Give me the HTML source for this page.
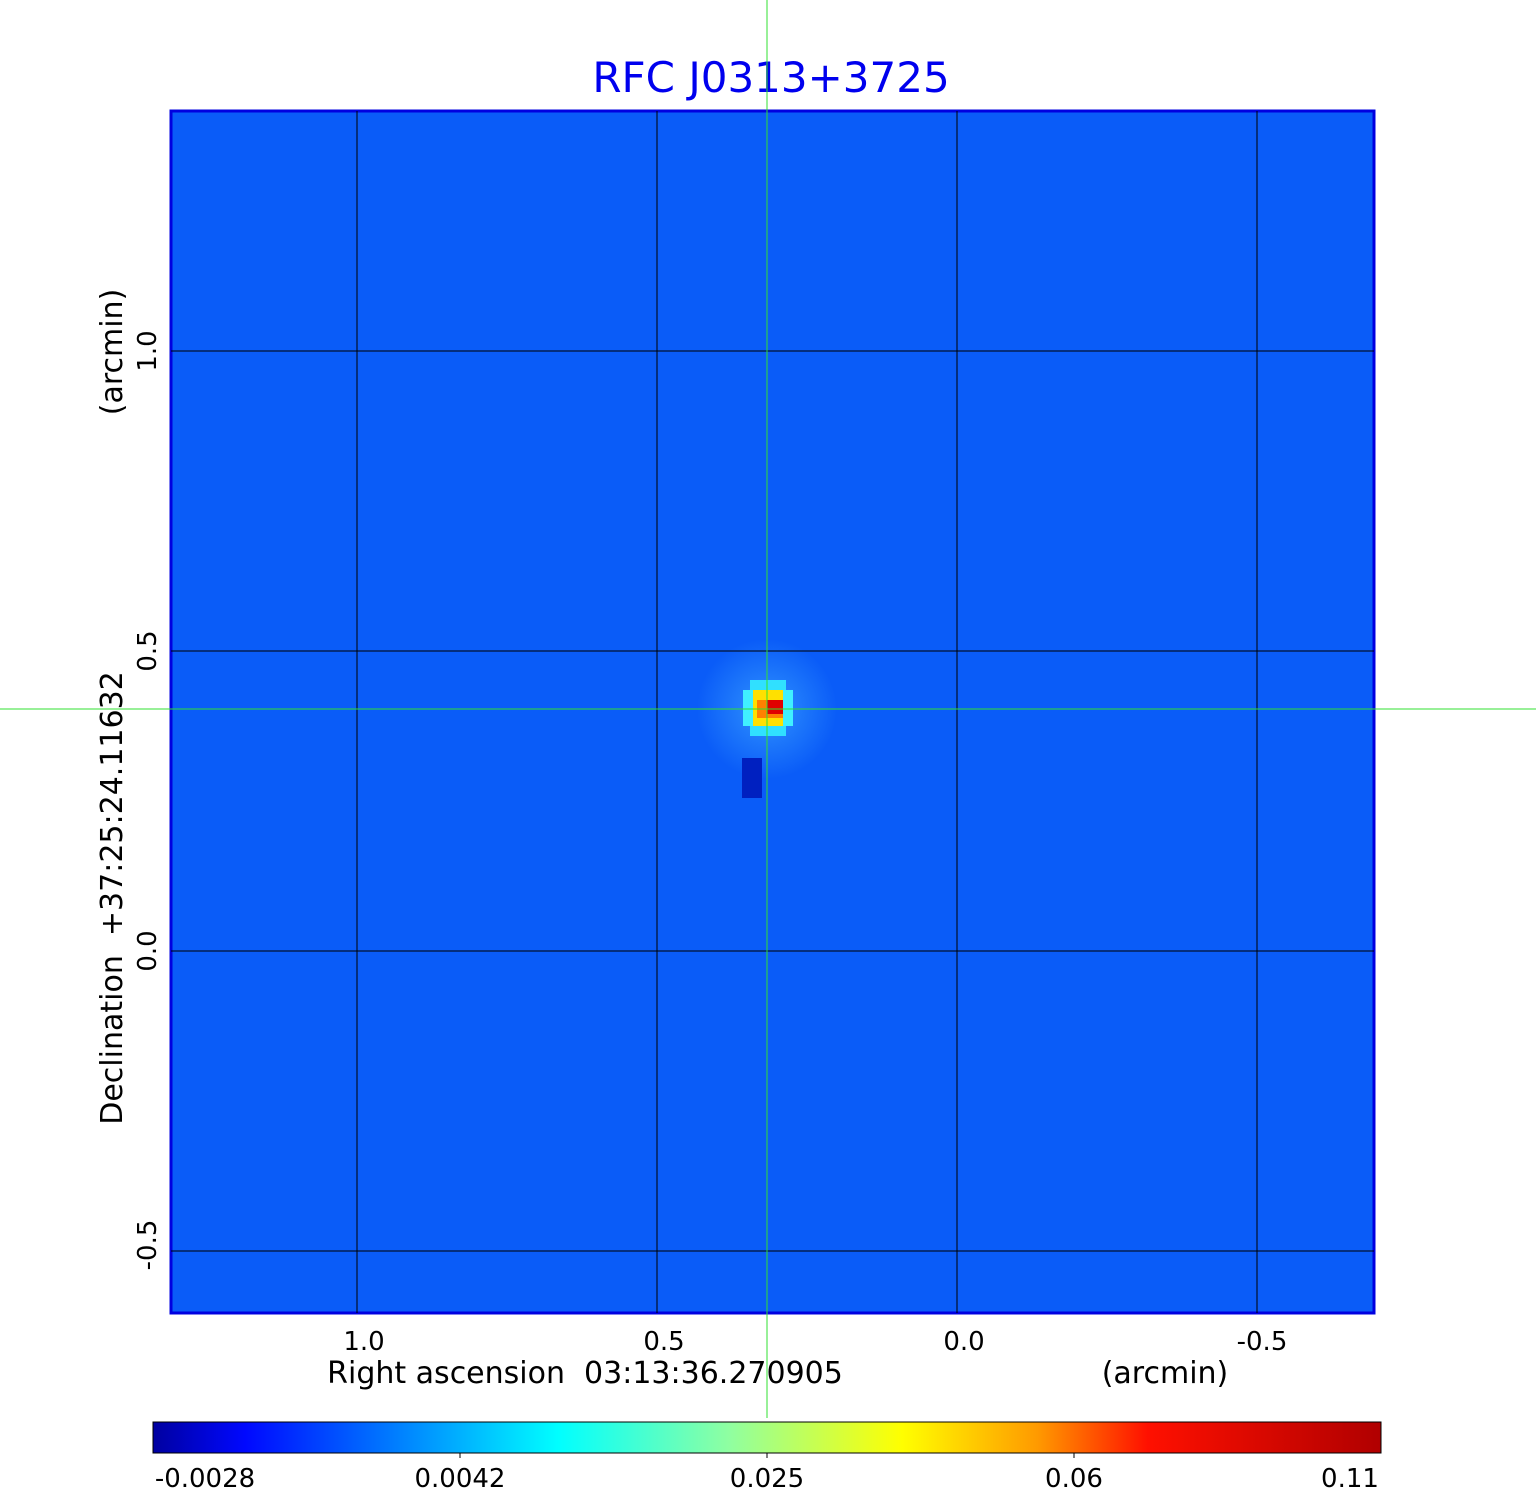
<!DOCTYPE html>
<html><head><style>body{margin:0;background:#fff}svg{display:block}text{font-family:"DejaVu Sans","Liberation Sans",sans-serif}</style></head>
<body>
<svg width="1536" height="1511" xmlns="http://www.w3.org/2000/svg">
<defs>
<linearGradient id="cb" x1="0" x2="1">
<stop offset="0" stop-color="#0000a0"/>
<stop offset="0.075" stop-color="#0008ff"/>
<stop offset="0.2" stop-color="#0080ff"/>
<stop offset="0.33" stop-color="#00ffff"/>
<stop offset="0.47" stop-color="#90ffa0"/>
<stop offset="0.61" stop-color="#ffff00"/>
<stop offset="0.72" stop-color="#ff9a00"/>
<stop offset="0.81" stop-color="#ff1000"/>
<stop offset="1" stop-color="#b00000"/>
</linearGradient>
<radialGradient id="halo" cx="0.5" cy="0.5" r="0.5">
<stop offset="0" stop-color="#3aa0ff" stop-opacity="0.8"/>
<stop offset="1" stop-color="#3aa0ff" stop-opacity="0"/>
</radialGradient>
</defs>
<text x="771" y="92" font-size="42" fill="#0000ee" text-anchor="middle">RFC J0313+3725</text>
<rect x="171" y="111" width="1203" height="1202" fill="#0a5cf8" stroke="#0000e0" stroke-width="3"/>
<circle cx="767" cy="709" r="70" fill="url(#halo)"/>
<g stroke="none">
<rect x="742" y="758" width="20" height="40" fill="#0020c0"/>
<rect x="750" y="680" width="36" height="56" fill="#30e0ff"/>
<rect x="743" y="690" width="50" height="36" fill="#40f0ff"/>
<rect x="753" y="690" width="30" height="36" fill="#ffe000"/>
<rect x="757" y="700" width="26" height="18" fill="#ff8000"/>
<rect x="767" y="700" width="16" height="14" fill="#e00000"/>
</g>
<g stroke="#000" stroke-width="1">
<line x1="357" y1="111" x2="357" y2="1313"/><line x1="657" y1="111" x2="657" y2="1313"/>
<line x1="957" y1="111" x2="957" y2="1313"/><line x1="1257" y1="111" x2="1257" y2="1313"/>
<line x1="171" y1="351" x2="1374" y2="351"/><line x1="171" y1="651" x2="1374" y2="651"/>
<line x1="171" y1="951" x2="1374" y2="951"/><line x1="171" y1="1251" x2="1374" y2="1251"/>
</g>
<g stroke="#30e030" stroke-width="1">
<line x1="767" y1="0" x2="767" y2="1418"/><line x1="0" y1="709" x2="1536" y2="709"/>
</g>
<g font-size="26" fill="#000" text-anchor="middle">
<text x="364" y="1350">1.0</text><text x="664" y="1350">0.5</text><text x="964" y="1350">0.0</text><text x="1262" y="1350">-0.5</text>
<text x="585" y="1383" font-size="30">Right ascension &#160;03:13:36.270905</text>
<text x="1165" y="1383" font-size="30">(arcmin)</text>
</g>
<g font-size="26" fill="#000" text-anchor="middle">
<text transform="translate(156,351) rotate(-90)">1.0</text>
<text transform="translate(156,651) rotate(-90)">0.5</text>
<text transform="translate(156,951) rotate(-90)">0.0</text>
<text transform="translate(156,1245) rotate(-90)">-0.5</text>
<text transform="translate(122,352) rotate(-90)" font-size="30">(arcmin)</text>
<text transform="translate(122,898) rotate(-90)" font-size="30">Declination &#160;+37:25:24.11632</text>
</g>
<rect x="153" y="1422" width="1228" height="31" fill="url(#cb)" stroke="#000" stroke-width="1"/>
<g stroke="#000"><line x1="460" y1="1453" x2="460" y2="1458"/><line x1="767" y1="1453" x2="767" y2="1458"/><line x1="1074" y1="1453" x2="1074" y2="1458"/></g>
<g font-size="26" fill="#000" text-anchor="middle">
<text x="205" y="1487">-0.0028</text><text x="460" y="1487">0.0042</text><text x="767" y="1487">0.025</text><text x="1074" y="1487">0.06</text><text x="1350" y="1487">0.11</text>
</g>
</svg>
</body></html>
